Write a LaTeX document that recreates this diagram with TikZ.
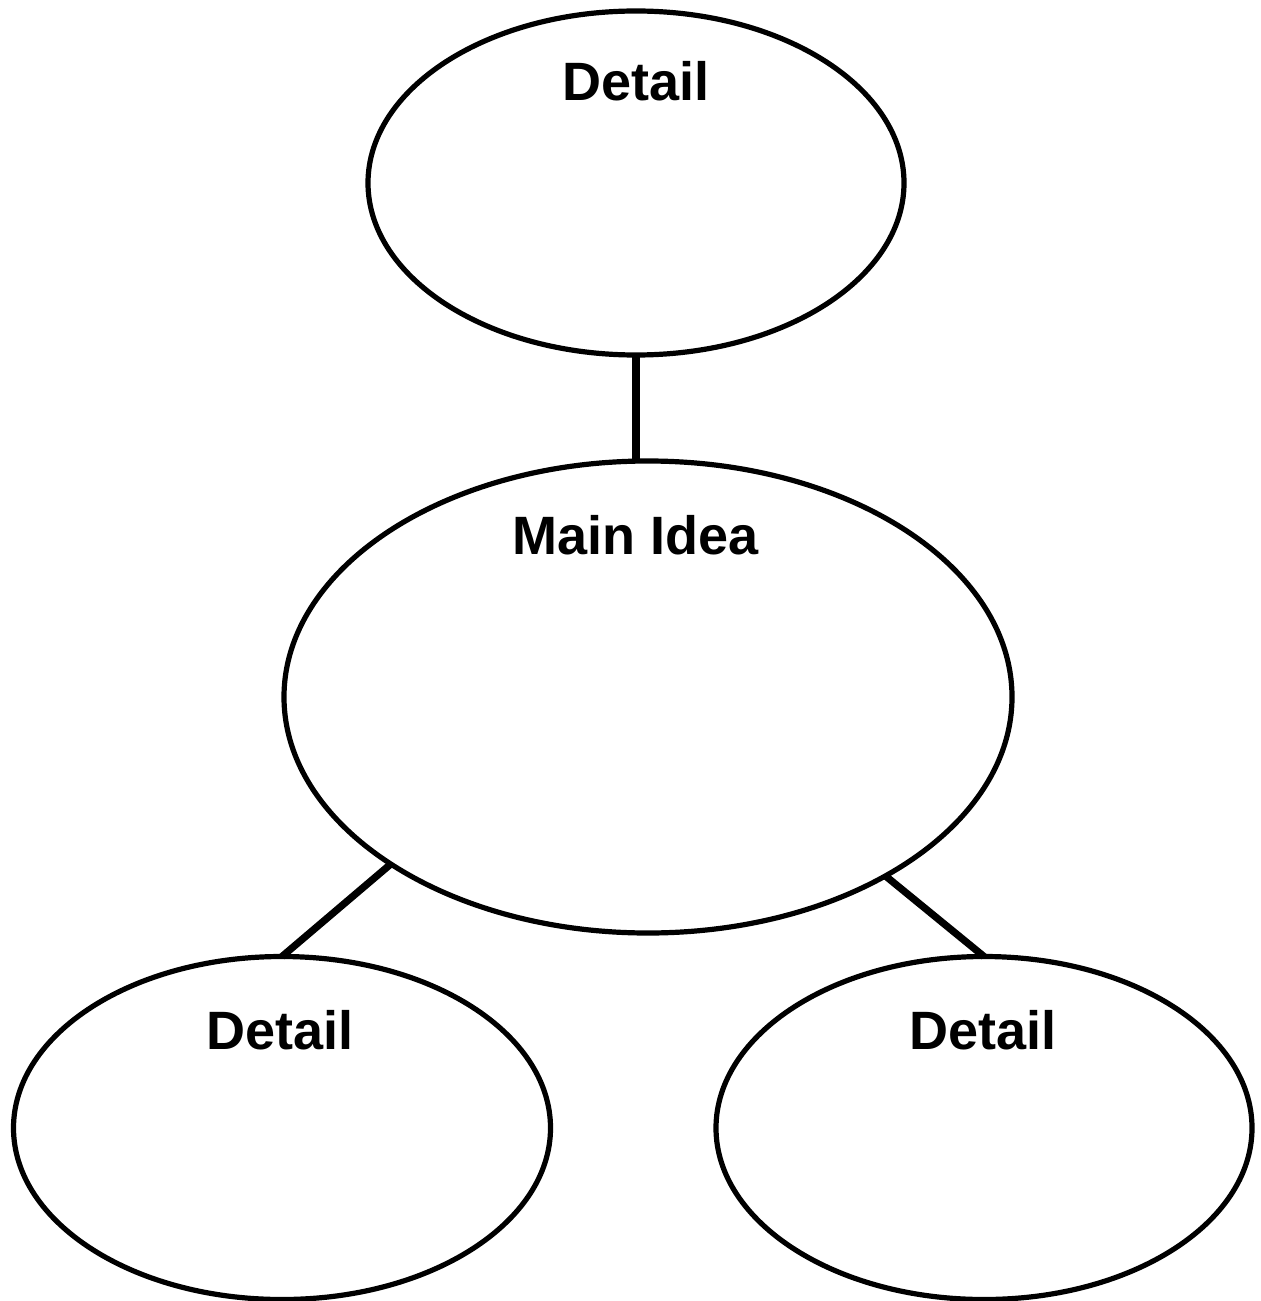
\documentclass[tikz,border=0pt]{standalone}
\usepackage{fontspec}
\setmainfont{Liberation Sans}
\usetikzlibrary{shapes.geometric}
\begin{document}
\begin{tikzpicture}[x=0.75pt,y=-0.75pt,
  bubble/.style={draw=black,line width=3.9pt,ellipse,inner sep=0pt,outer sep=0pt},
  conn/.style={draw=black,line width=5.4pt},
  lbl/.style={anchor=base,inner sep=0pt,font=\fontsize{40.5}{44}\selectfont\bfseries}]
\useasboundingbox (0,0) rectangle (1260,1301);
\node[bubble,minimum width=536*0.75pt,minimum height=344*0.75pt] (top) at (636,183) {};
\node[bubble,minimum width=728*0.75pt,minimum height=472*0.75pt] (main) at (648,697) {};
\node[bubble,minimum width=537*0.75pt,minimum height=343*0.75pt] (bl) at (282,1128) {};
\node[bubble,minimum width=536*0.75pt,minimum height=343*0.75pt] (br) at (984,1128) {};
\node[lbl] (ttop) at (636,101) {Detail};
\node[lbl] (tmain) at (636,554) {Main Idea};
\node[lbl] (tbl) at (280,1049) {Detail};
\node[lbl] (tbr) at (983,1049) {Detail};
\draw[conn] (top.south) -- (top.south |- main.north);
\draw[conn] (main.213.7) -- (bl.north);
\draw[conn] (main.323.8) -- (br.north);
\end{tikzpicture}
\end{document}
